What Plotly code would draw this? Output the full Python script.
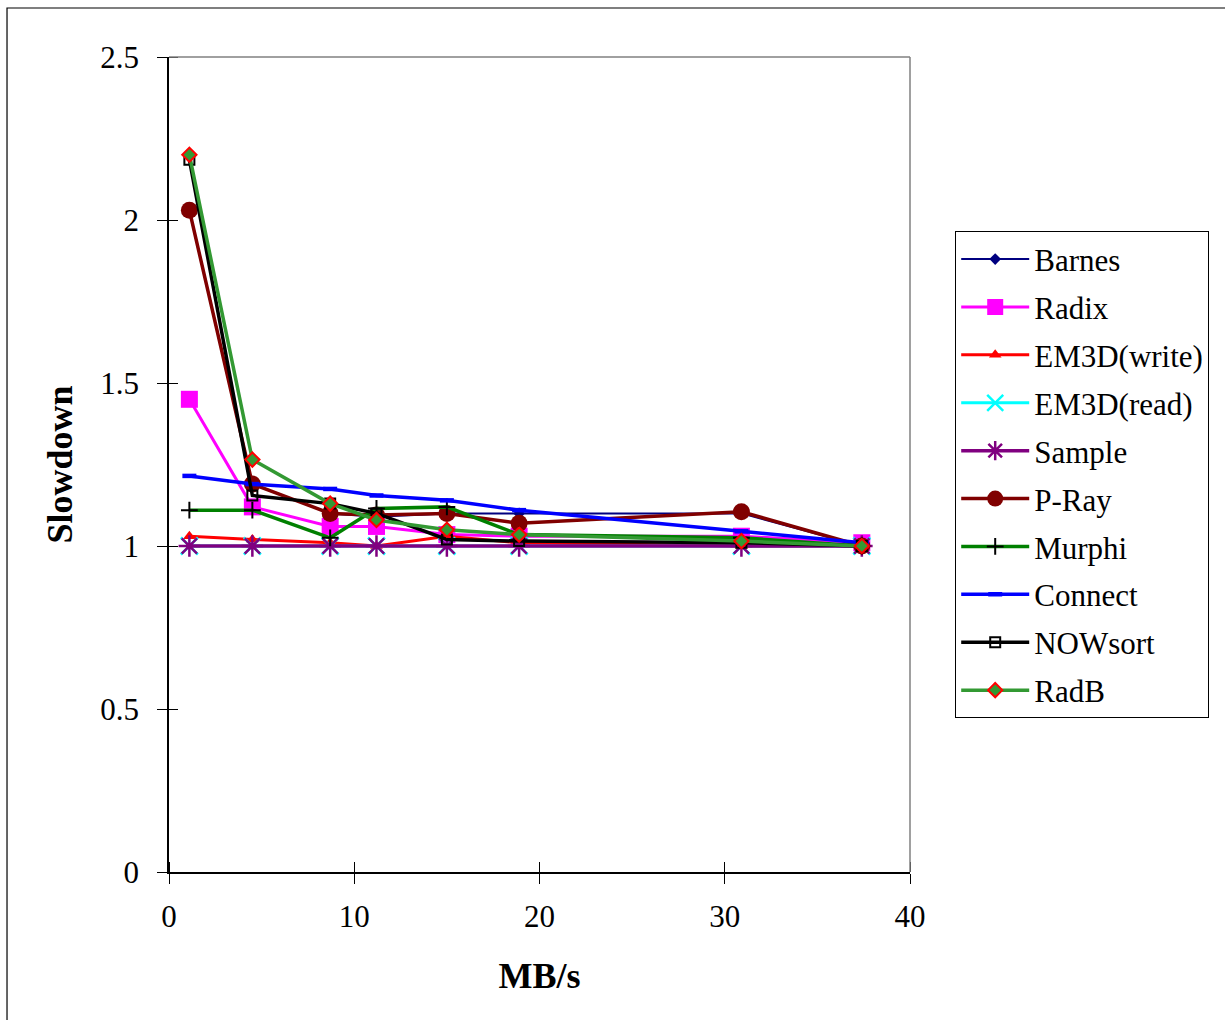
import plotly.graph_objects as go

x_mbs = [1.1, 4.5, 8.7, 11.2, 15.0, 18.9, 30.9, 37.4]

barnes = [2.03, 1.19, 1.10, 1.09, 1.10, 1.10, 1.10, 1.00]
radix = [1.45, 1.12, 1.06, 1.06, 1.035, 1.03, 1.03, 1.01]
em3d_write = [1.03, 1.02, 1.01, 1.00, 1.03, 1.01, 1.00, 1.00]
em3d_read = [1.00, 1.00, 1.00, 1.00, 1.00, 1.00, 1.00, 1.00]
sample = [1.00, 1.00, 1.00, 1.00, 1.00, 1.00, 1.00, 1.00]
pray = [2.03, 1.19, 1.10, 1.095, 1.10, 1.07, 1.105, 1.00]
murphi = [1.11, 1.11, 1.025, 1.115, 1.12, 1.035, 1.025, 1.00]
connect = [1.215, 1.19, 1.175, 1.155, 1.14, 1.11, 1.045, 1.01]
nowsort = [2.185, 1.155, 1.13, 1.10, 1.02, 1.015, 1.01, 1.00]
radb = [2.20, 1.265, 1.13, 1.08, 1.05, 1.035, 1.015, 1.00]

x_ticks = [0, 10, 20, 30, 40]
y_ticks = [0, 0.5, 1, 1.5, 2, 2.5]
y_tick_text = ["0", "0.5", "1", "1.5", "2", "2.5"]

FONT = "Liberation Serif, Times New Roman, serif"

series = [
    ("Barnes", barnes, dict(color="#000080", width=2),
     dict(symbol="diamond", size=9, color="#000080")),
    ("Radix", radix, dict(color="#FF00FF", width=3),
     dict(symbol="square", size=17, color="#FF00FF")),
    ("EM3D(write)", em3d_write, dict(color="#FF0000", width=3),
     dict(symbol="triangle-up", size=11, color="#FF0000")),
    ("EM3D(read)", em3d_read, dict(color="#00FFFF", width=3),
     dict(symbol="x-thin-open", size=17, color="#00FFFF", line=dict(width=2.5, color="#00FFFF"))),
    ("Sample", sample, dict(color="#800080", width=3.5),
     dict(symbol="asterisk-open", size=18, color="#800080", line=dict(width=2.5, color="#800080"))),
    ("P-Ray", pray, dict(color="#800000", width=3.5),
     dict(symbol="circle", size=17, color="#800000")),
    ("Murphi", murphi, dict(color="#008000", width=3.5),
     dict(symbol="cross-thin-open", size=12, color="#000000", line=dict(width=2, color="#000000"))),
    ("Connect", connect, dict(color="#0000FF", width=3.5),
     dict(symbol="line-ew-open", size=10, color="#0000FF", line=dict(width=4.5, color="#0000FF"))),
    ("NOWsort", nowsort, dict(color="#000000", width=3.5),
     dict(symbol="square-open", size=10, color="#000000", line=dict(width=2, color="#000000"))),
    ("RadB", radb, dict(color="#339933", width=3.5),
     dict(symbol="diamond", size=11, color="#339933", line=dict(width=2, color="#FF0000"))),
]

fig = go.Figure()
for i, (name, vals, line, marker) in enumerate(series):
    fig.add_trace(go.Scatter(
        x=x_mbs, y=vals, name=name, mode="lines+markers",
        line=line, marker=marker, legendgroup=f"g{i}",
    ))

fig.update_layout(
    width=1225, height=1020,
    margin=dict(l=169, r=315, t=57, b=148),
    paper_bgcolor="white", plot_bgcolor="white",
    font=dict(family=FONT, size=30, color="black"),
    showlegend=True,
    legend=dict(
        x=1.061, y=0.786, xanchor="left", yanchor="top",
        bordercolor="black", borderwidth=1, bgcolor="white",
        font=dict(family=FONT, size=31, color="black"),
        tracegroupgap=4.6, itemwidth=68,
    ),
    xaxis=dict(
        range=[0, 40], tickvals=x_ticks, ticks="outside", ticklen=10,
        tickcolor="black", showline=True, linecolor="black", linewidth=1.5,
        showgrid=False, zeroline=False, ticklabelstandoff=6,
        minor=dict(tickvals=x_ticks, ticks="inside", ticklen=10, tickcolor="black"),
        tickfont=dict(family=FONT, size=31),
        title=dict(text="<b>MB/s</b>", font=dict(family=FONT, size=36), standoff=30),
    ),
    yaxis=dict(
        range=[0, 2.5], tickvals=y_ticks, ticktext=y_tick_text, ticks="outside",
        ticklen=10, tickcolor="black", showline=True, linecolor="black",
        linewidth=1.5, showgrid=False, zeroline=False, ticklabelstandoff=12,
        minor=dict(tickvals=y_ticks, ticks="inside", ticklen=9, tickcolor="black"),
        tickfont=dict(family=FONT, size=31),
        title=dict(text="<b>Slowdown</b>", font=dict(family=FONT, size=36), standoff=17),
    ),
    shapes=[
        dict(type="line", xref="paper", yref="paper", x0=0, x1=1, y0=1, y1=1,
             line=dict(color="#808080", width=1.5)),
        dict(type="line", xref="paper", yref="paper", x0=1, x1=1, y0=0, y1=1,
             line=dict(color="#808080", width=1.5)),
        dict(type="rect", xref="paper", yref="paper", x0=-0.2186, x1=1.432,
             y0=-0.2, y1=1.0601, line=dict(color="black", width=1.2),
             fillcolor="rgba(0,0,0,0)", layer="below"),
    ],
)

fig.write_html("out.html")
